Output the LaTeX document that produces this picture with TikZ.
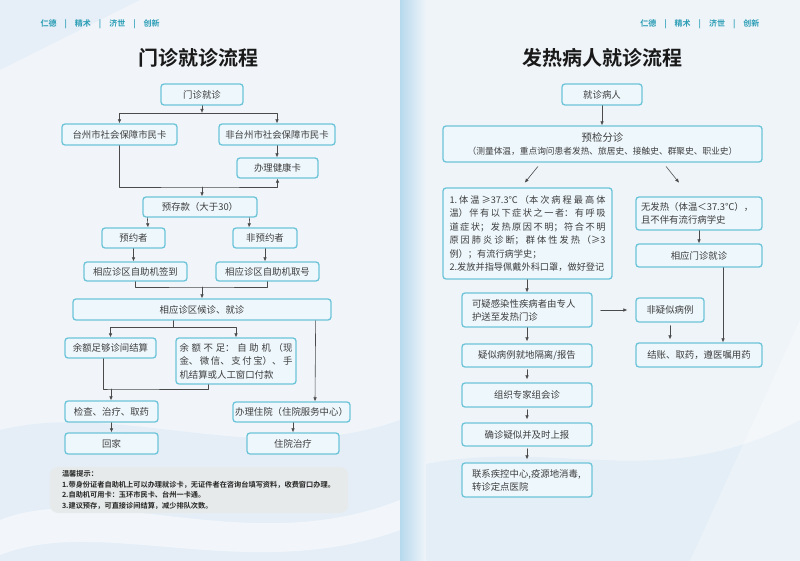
\documentclass[tikz,border=0pt]{standalone}
\usepackage{fontspec}
\setmainfont{Noto Sans CJK SC}[BoldFont={Noto Sans CJK SC Bold}]
\usetikzlibrary{arrows.meta}

\definecolor{boxline}{HTML}{6CC4D8}
\definecolor{boxfill}{HTML}{EEF7FC}
\definecolor{flowtext}{HTML}{3E3E3E}
\definecolor{flowgray}{HTML}{4A4A4A}
\definecolor{mottoteal}{HTML}{2A9DB5}
\definecolor{tipgray}{HTML}{E7EAEA}
\definecolor{pageL}{HTML}{F1F5FA}
\definecolor{pageR}{HTML}{EFF4F9}
\definecolor{stripblue}{HTML}{B7D9ED}
\definecolor{waveblue}{HTML}{DCEAF5}

\XeTeXlinebreaklocale "zh"
\newcommand{\cjkstretch}{\XeTeXlinebreakskip=0pt plus 4pt\relax}

\begin{document}
\begin{tikzpicture}[x=1pt, y=-1pt, >={Latex[length=4pt,width=3.6pt]}, line cap=round, line join=round]

% --- Global TikZ Styles ---
\tikzset{
    flowbox/.style={
        draw=boxline,
        fill=boxfill,
        line width=1.3pt,
        rounded corners=3pt,
        text=flowtext,
        font=\fontsize{9.4}{11}\selectfont,
        inner sep=0pt,
        align=center
    },
    justbox/.style={
        flowbox,
        align=justify,
        font=\fontsize{9.2}{13.5}\selectfont\cjkstretch
    },
    leftbox/.style={
        flowbox,
        align=flush left,
        font=\fontsize{9.4}{13}\selectfont
    },
    flowline/.style={
        draw=flowgray,
        line width=0.6pt
    },
    flowarrow/.style={
        flowline,
        ->
    },
    motto/.style={
        text=mottoteal,
        font=\fontsize{8}{8}\selectfont\bfseries
    },
    pagetitle/.style={
        text=black!90,
        font=\fontsize{20}{20}\selectfont\bfseries
    },
    tipbox/.style={
        fill=tipgray,
        rounded corners=8pt,
        text=black!85,
        align=flush left,
        inner sep=0pt,
        font=\fontsize{7.2}{10.4}\selectfont\bfseries
    }
}

\useasboundingbox (0,0) rectangle (800,561);

% --- Achtergrond ---
\fill[pageL] (0,0) rectangle (400,561);
\fill[pageR] (400,0) rectangle (800,561);
\fill[waveblue, opacity=0.5] (0,0) -- (140,0) -- (0,70) -- cycle;
\fill[waveblue, opacity=0.55] (0,430) .. controls (120,400) and (260,470) .. (400,420) -- (400,561) -- (0,561) -- cycle;
\fill[white, opacity=0.5] (0,520) .. controls (100,480) and (250,560) .. (400,500) -- (400,530) .. controls (250,585) and (100,515) .. (0,555) -- cycle;
\fill[waveblue, opacity=0.55] (400,470) .. controls (550,430) and (650,500) .. (800,420) -- (800,561) -- (400,561) -- cycle;
\fill[white, opacity=0.3] (690,561) -- (800,320) -- (800,561) -- cycle;
\shade[left color=stripblue, right color=pageR] (400,0) rectangle (426,561);

% =========================================================================
% --- Links: 门诊就诊流程 ---
% =========================================================================
\begin{scope}

    \node[motto, anchor=west] (mottoL) at (37,24)
        {仁德\hspace{8pt}|\hspace{8pt}精术\hspace{8pt}|\hspace{8pt}济世\hspace{8pt}|\hspace{8pt}创新};
    \node[pagetitle] (titleL) at (198,57.5) {门诊就诊流程};

    % --- Boxes ---
    \node[flowbox, minimum width=82, minimum height=21] (visit) at (202,94.5) {门诊就诊};
    \node[flowbox, minimum width=115, minimum height=21] (localcard) at (119.5,134.5) {台州市社会保障市民卡};
    \node[flowbox, minimum width=116, minimum height=21] (othercard) at (277,134.5) {非台州市社会保障市民卡};
    \node[flowbox, minimum width=81, minimum height=20] (healthcard) at (277.5,168) {办理健康卡};
    \node[flowbox, minimum width=114, minimum height=20] (deposit) at (200,207) {预存款（大于30）};
    \node[flowbox, minimum width=63, minimum height=20] (booked) at (133.5,238) {预约者};
    \node[flowbox, minimum width=64, minimum height=20] (unbooked) at (265,238) {非预约者};
    \node[flowbox, minimum width=103, minimum height=19] (checkin) at (135.5,271.5) {相应诊区自助机签到};
    \node[flowbox, minimum width=103, minimum height=19] (ticket) at (267.5,271.5) {相应诊区自助机取号};
    \node[flowbox, minimum width=258, minimum height=21] (waiting) at (202,309.5) {相应诊区候诊、就诊};
    \node[flowbox, minimum width=91, minimum height=20] (enough) at (110.5,348) {余额足够诊间结算};
    \node[justbox, minimum width=120, minimum height=46, text width=113, font=\fontsize{9.4}{13.5}\selectfont\cjkstretch] (short) at (236,361)
        {余额不足：自助机（现\linebreak 金、微信、支付宝）、手\linebreak 机结算或人工窗口付款};
    \node[flowbox, minimum width=93, minimum height=21] (exam) at (111.5,411.5) {检查、治疗、取药};
    \node[flowbox, minimum width=93, minimum height=21] (home) at (111.5,443.5) {回家};
    \node[flowbox, minimum width=117, minimum height=20] (admit) at (291.5,412) {办理住院（住院服务中心）};
    \node[flowbox, minimum width=92, minimum height=21] (inpatient) at (293,443.5) {住院治疗};

    % --- Knooppunten ---
    \coordinate (splitA) at (202,113);
    \coordinate (joinA) at (202,187);
    \coordinate (joinB) at (202,287);
    \coordinate (splitB) at (173,327);
    \coordinate (joinC) at (111,389);

    % --- Verbindingen ---
    \draw[flowarrow] (visit) -- (splitA);
    \draw[flowarrow] (splitA) -| (localcard);
    \draw[flowarrow] (splitA) -| (othercard);
    \draw[flowarrow] (othercard.south) -- (othercard.south |- healthcard.north);
    \draw[flowarrow] (localcard) |- (joinA) -| (healthcard);
    \draw[flowarrow] (joinA) -- (joinA |- deposit.north);

    \draw[flowarrow] ([xshift=5pt]deposit.south west) -- ([xshift=14.5pt]booked.north);
    \draw[flowarrow] ([xshift=-8pt]deposit.south east) -- ([xshift=-16pt]unbooked.north);
    \draw[flowarrow] (booked.south) -- ([xshift=-2pt]checkin.north);
    \draw[flowarrow] (unbooked.south) -- (unbooked.south |- ticket.north);

    \draw[flowline] (checkin.south) |- (joinB) -| (ticket.south);
    \draw[flowarrow] (joinB) -- (joinB |- waiting.north);

    \draw[flowline] (splitB |- waiting.south) -- (splitB);
    \draw[flowarrow] (splitB) -| (enough);
    \draw[flowarrow] (splitB) -| (short);
    \draw[flowarrow] ([xshift=-16pt]waiting.south east) -- ([xshift=23.5pt]admit.north);

    \draw[flowline] ([xshift=-7.5pt]enough.south) |- (joinC) -| ([xshift=-28pt]short.south);
    \draw[flowarrow] (joinC) -- (joinC |- exam.north);
    \draw[flowarrow] (exam) -- (home);
    \draw[flowarrow] (inpatient.north |- admit.south) -- (inpatient.north);

    % --- 温馨提示 ---
    \node[tipbox, minimum width=298, minimum height=46, text width=274] (tips) at (199,490)
        {温馨提示：\\
         1.带身份证者自助机上可以办理就诊卡，无证件者在咨询台填写资料，收费窗口办理。\\
         2.自助机可用卡：玉环市民卡、台州一卡通。\\
         3.建议预存，可直接诊间结算，减少排队次数。};

\end{scope}

% =========================================================================
% --- Rechts: 发热病人就诊流程 ---
% =========================================================================
\begin{scope}

    \node[motto, anchor=east] (mottoR) at (763,24)
        {仁德\hspace{8pt}|\hspace{8pt}精术\hspace{8pt}|\hspace{8pt}济世\hspace{8pt}|\hspace{8pt}创新};
    \node[pagetitle] (titleR) at (602.5,57.5) {发热病人就诊流程};

    % --- Boxes ---
    \node[flowbox, minimum width=80, minimum height=21] (patient) at (602,94.5) {就诊病人};
    \node[flowbox, minimum width=319, minimum height=36] (triage) at (602.5,144)
        {{\fontsize{10.4}{12}\selectfont 预检分诊}\\[2pt]
         {\fontsize{8.7}{10}\selectfont （测量体温，重点询问患者发热、旅居史、接触史、群聚史、职业史）}};
    \node[justbox, minimum width=169, minimum height=91, text width=156] (fever) at (527.5,233.5)
        {1.体温≥37.3℃（本次病程最高体\linebreak
         温）伴有以下症状之一者：有呼吸\linebreak
         道症状；发热原因不明；符合不明\linebreak
         原因肺炎诊断；群体性发热（≥3\linebreak
         例）；有流行病学史；\\
         2.发放并指导佩戴外科口罩，做好登记};
    \node[leftbox, minimum width=126, minimum height=33, text width=116] (nofever) at (699,213.5)
        {无发热（体温＜37.3℃），\\且不伴有流行病学史};
    \node[flowbox, minimum width=126, minimum height=23] (clinic) at (699,255.5) {相应门诊就诊};
    \node[leftbox, minimum width=130, minimum height=34, text width=110] (escort) at (527,310)
        {可疑感染性疾病者由专人\\护送至发热门诊};
    \node[flowbox, minimum width=68, minimum height=24] (nonsusp) at (670,310) {非疑似病例};
    \node[flowbox, minimum width=126, minimum height=24] (settle) at (699,355) {结账、取药，遵医嘱用药};
    \node[flowbox, minimum width=130, minimum height=23] (isolate) at (527,355.5) {疑似病例就地隔离/报告};
    \node[flowbox, minimum width=130, minimum height=24] (consult) at (527,395) {组织专家组会诊};
    \node[flowbox, minimum width=130, minimum height=23] (report) at (527,434.5) {确诊疑似并及时上报};
    \node[leftbox, minimum width=130, minimum height=34, text width=110] (transfer) at (527,480)
        {联系疾控中心,疫源地消毒,\\转诊定点医院};

    % --- Verbindingen ---
    \draw[flowarrow] (patient.south) -- (patient.south |- triage.north);
    \draw[flowarrow, shorten <=5pt, shorten >=6pt] ([xshift=-61.5pt]triage.south) -- ([xshift=-6.5pt]fever.north);
    \draw[flowarrow, shorten <=5pt, shorten >=17.5pt] ([xshift=60.5pt]triage.south) -- ([xshift=-9pt]nofever.north);
    \draw[flowarrow] (nofever) -- (clinic);
    \draw[flowarrow] ([xshift=24pt]clinic.south) -- ([xshift=24pt]settle.north);

    \draw[flowarrow] (escort.north |- fever.south) -- (escort.north);
    \draw[flowarrow, shorten <=8pt, shorten >=8pt] (escort.east) -- (nonsusp.west);
    \draw[flowarrow, shorten <=3pt, shorten >=3pt] (nonsusp.south) -- (nonsusp.south |- settle.north);

    \draw[flowarrow, shorten >=2pt] (escort) -- (isolate);
    \draw[flowarrow, shorten <=2pt, shorten >=3pt] (isolate) -- (consult);
    \draw[flowarrow, shorten <=2pt, shorten >=3pt] (consult) -- (report);
    \draw[flowarrow, shorten <=2pt, shorten >=3pt] (report) -- (transfer);

\end{scope}

\end{tikzpicture}
\end{document}
